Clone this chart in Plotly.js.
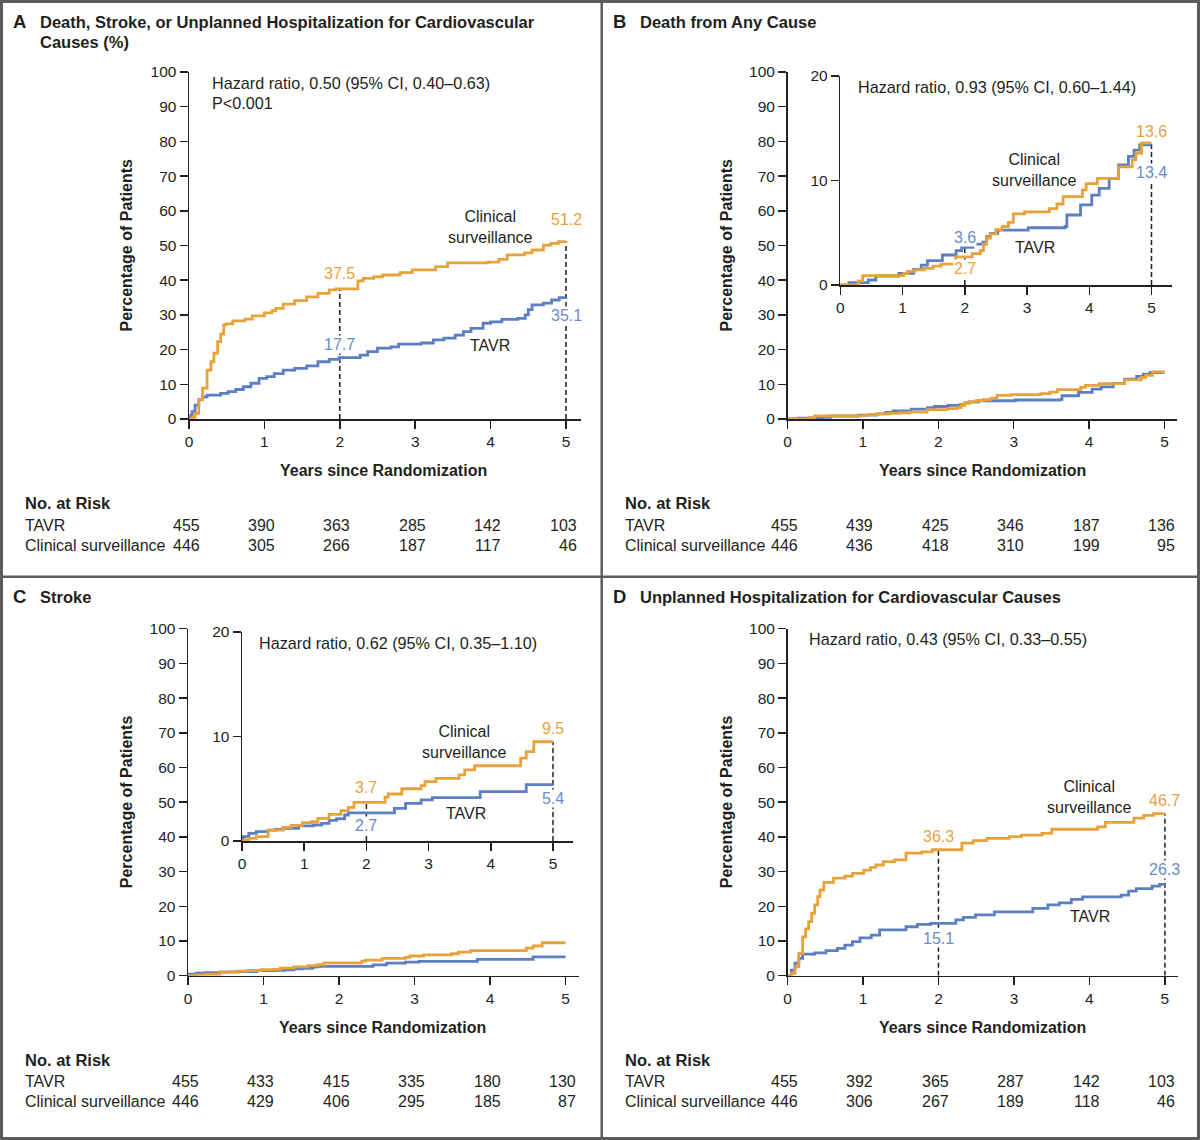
<!DOCTYPE html>
<html>
<head>
<meta charset="utf-8">
<script src="https://cdn.plot.ly/plotly-3.0.1.min.js"></script>
<style>html,body{margin:0;padding:0;background:#fff;}#chart{width:1200px;height:1140px;}</style>
</head>
<body>
<div id="chart"></div>
<script>
// ---------------- DATA ----------------
const years = [0, 1, 2, 3, 4, 5];

// Panel A: Death, stroke, or unplanned CV hospitalization
const A_cs_t   = [0, 0.05, 0.08, 0.13, 0.18, 0.24, 0.29, 0.33, 0.38, 0.42, 0.46, 0.49, 0.58, 0.74, 0.84, 1.0, 1.1, 1.15, 1.25, 1.4, 1.56, 1.71, 1.86, 1.95, 2.24, 2.31, 2.45, 2.57, 2.8, 2.96, 3.27, 3.43, 3.96, 4.11, 4.22, 4.45, 4.55, 4.7, 4.8, 4.9, 5.0];
const A_cs_v   = [0, 0.5, 1.6, 5.5, 8.9, 14.1, 16.5, 19.0, 22.3, 24.5, 27.1, 27.4, 28.3, 28.8, 29.7, 30.6, 31.2, 31.9, 33.1, 34.1, 35.2, 36.2, 37.2, 37.5, 39.8, 40.5, 41.0, 41.5, 42.2, 43.0, 43.9, 45.0, 45.2, 46.0, 47.3, 47.9, 48.7, 50.1, 50.6, 51.1, 51.2];
const A_tavr_t = [0, 0.02, 0.04, 0.08, 0.13, 0.18, 0.24, 0.42, 0.52, 0.62, 0.72, 0.82, 0.93, 1.03, 1.13, 1.25, 1.4, 1.56, 1.71, 1.86, 1.99, 2.27, 2.37, 2.5, 2.68, 2.78, 3.08, 3.24, 3.38, 3.53, 3.64, 3.74, 3.9, 4.0, 4.15, 4.36, 4.46, 4.5, 4.55, 4.7, 4.81, 4.91, 5.0];
const A_tavr_v = [0, 1.0, 2.1, 4.0, 5.6, 6.4, 6.9, 7.4, 7.9, 8.5, 9.3, 10.3, 11.7, 12.2, 13.1, 14.1, 14.6, 15.3, 16.5, 17.2, 17.7, 18.4, 19.4, 20.4, 20.8, 21.6, 21.9, 22.8, 23.3, 24.2, 25.2, 26.1, 27.6, 28.0, 28.7, 29.0, 30.0, 31.5, 32.9, 33.4, 34.3, 35.0, 35.1];

// Panel B: Death from any cause
const B_cs_t   = [0, 0.29, 0.36, 1.02, 1.08, 1.2, 1.35, 1.49, 1.62, 1.85, 2.12, 2.25, 2.3, 2.35, 2.41, 2.5, 2.6, 2.7, 2.78, 2.96, 3.36, 3.48, 3.58, 3.89, 3.95, 4.13, 4.47, 4.69, 4.75, 4.84, 5.0];
const B_cs_v   = [0, 0.4, 0.9, 1.1, 1.3, 1.45, 1.6, 1.8, 2.0, 2.7, 3.0, 3.3, 3.9, 4.5, 4.9, 5.3, 5.6, 6.0, 6.8, 7.0, 7.3, 7.75, 8.45, 9.1, 9.7, 10.2, 11.3, 12.0, 12.6, 13.6, 13.6];
const B_tavr_t = [0, 0.14, 0.45, 0.57, 0.94, 1.18, 1.3, 1.4, 1.64, 1.86, 1.95, 2.13, 2.29, 2.35, 2.41, 2.53, 3.02, 3.61, 3.64, 3.86, 4.04, 4.16, 4.32, 4.47, 4.63, 4.72, 4.81, 5.0];
const B_tavr_v = [0, 0.22, 0.48, 0.86, 1.12, 1.5, 1.91, 2.33, 2.87, 3.28, 3.6, 3.92, 4.1, 4.62, 4.94, 5.26, 5.48, 5.6, 6.7, 7.66, 8.6, 9.25, 10.2, 11.5, 12.3, 12.9, 13.4, 13.4];

// Panel C: Stroke
const C_cs_t   = [0, 0.05, 0.11, 0.23, 0.42, 0.66, 0.79, 0.97, 1.12, 1.22, 1.4, 1.59, 1.71, 1.8, 2.3, 2.35, 2.57, 2.88, 2.94, 3.12, 3.49, 3.58, 3.74, 4.48, 4.57, 4.69, 5.0];
const C_cs_v   = [0, 0.1, 0.26, 0.42, 1.05, 1.31, 1.5, 1.75, 1.85, 2.17, 2.55, 2.9, 3.22, 3.7, 4.19, 4.5, 5.0, 5.3, 5.68, 6.0, 6.33, 6.8, 7.2, 7.93, 8.56, 9.5, 9.5];
const C_tavr_t = [0, 0.02, 0.11, 0.23, 0.42, 0.54, 0.66, 0.91, 1.15, 1.28, 1.4, 1.52, 1.65, 1.71, 2.45, 2.63, 2.88, 3.06, 3.83, 4.57, 5.0];
const C_tavr_v = [0, 0.42, 0.73, 0.9, 1.05, 1.12, 1.2, 1.44, 1.53, 1.69, 1.98, 2.13, 2.49, 2.7, 3.13, 3.61, 3.93, 4.15, 4.73, 5.4, 5.4];

// Panel D: Unplanned hospitalization for CV causes
const D_cs_t   = [0, 0.05, 0.1, 0.15, 0.2, 0.24, 0.28, 0.32, 0.36, 0.4, 0.43, 0.48, 0.61, 0.76, 0.86, 1.01, 1.1, 1.17, 1.27, 1.42, 1.57, 1.78, 1.92, 2.31, 2.46, 2.64, 2.94, 3.1, 3.37, 3.5, 4.11, 4.21, 4.59, 4.72, 4.85, 5.0];
const D_cs_v   = [0, 0.7, 2.6, 6.4, 11.2, 13.5, 15.6, 18.0, 20.4, 22.8, 24.7, 26.9, 28.1, 28.7, 29.5, 30.4, 31.2, 31.9, 32.9, 33.4, 35.3, 35.7, 36.3, 38.2, 38.9, 39.6, 40.1, 40.5, 41.0, 42.2, 42.9, 44.2, 45.4, 46.2, 46.7, 46.7];
const D_tavr_t = [0, 0.05, 0.1, 0.15, 0.2, 0.36, 0.51, 0.66, 0.76, 0.86, 0.96, 1.11, 1.22, 1.57, 1.72, 1.9, 2.23, 2.33, 2.49, 2.74, 3.25, 3.45, 3.6, 3.76, 3.91, 4.42, 4.52, 4.62, 4.83, 4.93, 5.0];
const D_tavr_v = [0, 1.6, 3.6, 5.0, 6.2, 6.6, 7.2, 7.9, 8.8, 9.8, 10.9, 11.7, 13.2, 14.1, 14.8, 15.1, 16.1, 16.8, 17.5, 18.4, 19.4, 20.4, 21.0, 22.0, 22.7, 23.2, 24.4, 25.1, 25.8, 26.3, 26.3];

// Landmark estimates (years 2 and 5)
const landmarkYears = [2, 5];
const A_cs_mark = [37.5, 51.2], A_tavr_mark = [17.7, 35.1];
const B_cs_mark = [2.7, 13.6],  B_tavr_mark = [3.6, 13.4];
const C_cs_mark = [3.7, 9.5],   C_tavr_mark = [2.7, 5.4];
const D_cs_mark = [36.3, 46.7], D_tavr_mark = [15.1, 26.3];

// Numbers at risk
const A_risk_tavr = [455, 390, 363, 285, 142, 103], A_risk_cs = [446, 305, 266, 187, 117, 46];
const B_risk_tavr = [455, 439, 425, 346, 187, 136], B_risk_cs = [446, 436, 418, 310, 199, 95];
const C_risk_tavr = [455, 433, 415, 335, 180, 130], C_risk_cs = [446, 429, 406, 295, 185, 87];
const D_risk_tavr = [455, 392, 365, 287, 142, 103], D_risk_cs = [446, 306, 267, 189, 118, 46];

// Text
const panelLetters = ['A', 'B', 'C', 'D'];
const panelTitles = [['Death, Stroke, or Unplanned Hospitalization for Cardiovascular', 'Causes (%)'], ['Death from Any Cause'], ['Stroke'], ['Unplanned Hospitalization for Cardiovascular Causes']];
const hazardTexts = [['Hazard ratio, 0.50 (95% CI, 0.40\u20130.63)', 'P&lt;0.001'], ['Hazard ratio, 0.93 (95% CI, 0.60\u20131.44)'], ['Hazard ratio, 0.62 (95% CI, 0.35\u20131.10)'], ['Hazard ratio, 0.43 (95% CI, 0.33\u20130.55)']];
const groupNames = ['TAVR', 'Clinical surveillance'];

// ---------------- STYLE / LAYOUT ----------------
const W = 1200, H = 1140;
const PX = x => x / W, PY = y => 1 - y / H;
const FONT = 'Liberation Sans, Arial, Helvetica, sans-serif';
const INK = '#231f20';
const ORANGE = '#E9A23B', BLUE = '#5B7FC2';
const ORANGE_TXT = '#E8A23E', BLUE_TXT = '#6A8BC8';

// geometry in pixels: x0 (year 0), x5 (year 5), xe (axis end), yb (bottom), yt (top), ymax
const geo = {
  A:  {x0: 189,   x5: 566,    xe: 581,  yb: 419,   yt: 72,    ymax: 100},
  B:  {x0: 787.5, x5: 1164.5, xe: 1177, yb: 419,   yt: 72,    ymax: 100},
  Bi: {x0: 840.3, x5: 1151.5, xe: 1172, yb: 285,   yt: 76,    ymax: 20},
  C:  {x0: 188,   x5: 565.6,  xe: 579,  yb: 975.7, yt: 628.7, ymax: 100},
  Ci: {x0: 242,   x5: 553,    xe: 573,  yb: 841,   yt: 632,   ymax: 20},
  D:  {x0: 787.5, x5: 1164.9, xe: 1178, yb: 975.7, yt: 628.7, ymax: 100}
};
const axKeys = {A: ['x', 'y'], B: ['x2', 'y2'], Bi: ['x3', 'y3'], C: ['x4', 'y4'], Ci: ['x5', 'y5'], D: ['x6', 'y6']};

const layout = {
  width: W, height: H,
  margin: {l: 0, r: 0, t: 0, b: 0, pad: 0},
  paper_bgcolor: '#fff', plot_bgcolor: 'rgba(0,0,0,0)',
  showlegend: false,
  font: {family: FONT, color: INK, size: 16},
  annotations: [], shapes: []
};

function axisName(k) { return k === 'x' ? 'xaxis' : k === 'y' ? 'yaxis' : (k[0] + 'axis' + k.slice(1)); }

Object.keys(geo).forEach(p => {
  const g = geo[p];
  const [xk, yk] = axKeys[p];
  const inset = g.ymax === 20;
  const common = {
    showline: true, linecolor: INK, linewidth: 1.5,
    ticks: 'outside', ticklen: 8, tickwidth: 1.5, tickcolor: INK,
    showgrid: false, zeroline: false, fixedrange: true,
    tickfont: {family: FONT, size: 15.5, color: INK}
  };
  layout[axisName(xk)] = Object.assign({}, common, {
    domain: [PX(g.x0), PX(g.xe)],
    range: [0, 5 * (g.xe - g.x0) / (g.x5 - g.x0)],
    tickvals: years, ticktext: years.map(String),
    anchor: yk
  });
  layout[axisName(yk)] = Object.assign({}, common, {
    domain: [PY(g.yb), PY(g.yt)],
    range: [0, g.ymax],
    tickvals: inset ? [0, 10, 20] : [0, 10, 20, 30, 40, 50, 60, 70, 80, 90, 100],
    anchor: xk
  });
});

// ---------------- TRACES ----------------
const traces = [];
function addCurves(p, cs_t, cs_v, tv_t, tv_v) {
  const [xk, yk] = axKeys[p];
  traces.push({x: tv_t, y: tv_v, xaxis: xk, yaxis: yk, mode: 'lines', line: {shape: 'hv', color: BLUE, width: 2.8}, cliponaxis: false, hoverinfo: 'skip', name: groupNames[0]});
  traces.push({x: cs_t, y: cs_v, xaxis: xk, yaxis: yk, mode: 'lines', line: {shape: 'hv', color: ORANGE, width: 2.8}, cliponaxis: false, hoverinfo: 'skip', name: groupNames[1]});
}
addCurves('A', A_cs_t, A_cs_v, A_tavr_t, A_tavr_v);
addCurves('B', B_cs_t, B_cs_v, B_tavr_t, B_tavr_v);
addCurves('Bi', B_cs_t, B_cs_v, B_tavr_t, B_tavr_v);
addCurves('C', C_cs_t, C_cs_v, C_tavr_t, C_tavr_v);
addCurves('Ci', C_cs_t, C_cs_v, C_tavr_t, C_tavr_v);
addCurves('D', D_cs_t, D_cs_v, D_tavr_t, D_tavr_v);

// ---------------- LANDMARKS ----------------
// pixel offsets of value labels: [cs@2, tavr@2, cs@5, tavr@5]
const labelShift = {A: [15, 13, 22, -18], Bi: [-12, 10, 11, -28], Ci: [15, -13, 13, -14], D: [13, -15, 13, 15]};
function addLandmarks(p, csMark, tvMark) {
  const [xk, yk] = axKeys[p];
  const sh = labelShift[p];
  landmarkYears.forEach((t, i) => {
    layout.shapes.push({type: 'line', xref: xk, yref: yk, x0: t, x1: t, y0: 0, y1: Math.max(csMark[i], tvMark[i]),
      line: {color: INK, width: 1.5, dash: '5px,3px'}, layer: 'below'});
    layout.annotations.push({xref: xk, yref: yk, x: t, y: csMark[i], yshift: sh[i * 2], text: csMark[i].toFixed(1),
      showarrow: false, xanchor: 'center', yanchor: 'middle', bgcolor: '#ffffff', borderpad: 0,
      font: {family: FONT, size: 16, color: ORANGE_TXT}});
    layout.annotations.push({xref: xk, yref: yk, x: t, y: tvMark[i], yshift: sh[i * 2 + 1], text: tvMark[i].toFixed(1),
      showarrow: false, xanchor: 'center', yanchor: 'middle', bgcolor: '#ffffff', borderpad: 0,
      font: {family: FONT, size: 16, color: BLUE_TXT}});
  });
}
addLandmarks('A', A_cs_mark, A_tavr_mark);
addLandmarks('Bi', B_cs_mark, B_tavr_mark);
addLandmarks('Ci', C_cs_mark, C_tavr_mark);
addLandmarks('D', D_cs_mark, D_tavr_mark);

// ---------------- TEXT ----------------
function txt(x, y, text, opts) {
  layout.annotations.push(Object.assign({xref: 'paper', yref: 'paper', x: PX(x), y: PY(y), text: text, showarrow: false,
    xanchor: 'left', yanchor: 'middle', font: {family: FONT, size: 16, color: INK}}, opts || {}));
}
const bold = (s, size) => ({family: FONT, size: size, color: INK, weight: 'bold'});

const panels = [
  {key: 'A', lx: 0,   ty: 0,     main: 'A', hz: [210, 83],  cs: [490, 226.5], tv: [490, 345.7], risk: [A_risk_tavr, A_risk_cs]},
  {key: 'B', lx: 600, ty: 0,     main: 'B', hz: [855.6, 87], cs: [1034, 170], tv: [1035, 247], risk: [B_risk_tavr, B_risk_cs]},
  {key: 'C', lx: 0,   ty: 576.5, main: 'C', hz: [257, 642.7], cs: [464, 741.7], tv: [466, 813], risk: [C_risk_tavr, C_risk_cs]},
  {key: 'D', lx: 600, ty: 576.5, main: 'D', hz: [806.7, 639], cs: [1089, 797], tv: [1090, 917], risk: [D_risk_tavr, D_risk_cs]}
];

panels.forEach((P, i) => {
  const g = geo[P.main];
  const titleY = P.ty + 21.5 + (i >= 2 ? -1.5 : 0);
  txt(P.lx + 11, titleY, panelLetters[i], {font: bold(INK, 18.5)});
  panelTitles[i].forEach((line, j) => txt(P.lx + 38, titleY + j * 21, line, {font: bold(INK, 16.5)}));
  hazardTexts[i].forEach((line, j) => txt(P.hz[0], P.hz[1] + j * 20, line, {font: {family: FONT, size: 16.2, color: INK}}));
  txt(P.cs[0], P.cs[1], 'Clinical<br>surveillance', {xanchor: 'center', align: 'center', font: {family: FONT, size: 16, color: INK}});
  txt(P.tv[0], P.tv[1], groupNames[0], {xanchor: 'center', font: {family: FONT, size: 16, color: INK}});
  txt(P.lx + 126, (g.yb + g.yt) / 2, 'Percentage of Patients', {xanchor: 'center', textangle: -90, font: bold(INK, 16)});
  txt((g.x0 + g.x5) / 2 + 6, g.yb + 51.5, 'Years since Randomization', {xanchor: 'center', font: bold(INK, 16)});
  const ry = g.yb + 84;
  txt(P.lx + 23, ry, 'No. at Risk', {font: bold(INK, 16.5)});
  txt(P.lx + 23, ry + 22, groupNames[0]);
  txt(P.lx + 23, ry + 42, groupNames[1]);
  years.forEach((yr, k) => {
    const xpx = g.x0 + k * (g.x5 - g.x0) / 5 + 12.5;
    txt(xpx, ry + 22, String(P.risk[0][k]), {xanchor: 'right'});
    txt(xpx, ry + 42, String(P.risk[1][k]), {xanchor: 'right'});
  });
});

// frame and dividers
const FRAME = '#5c5c5c';
layout.shapes.push({type: 'rect', xref: 'paper', yref: 'paper', x0: PX(1.5), x1: PX(W - 1.5), y0: PY(H - 1.5), y1: PY(1.5), line: {color: FRAME, width: 3}});
layout.shapes.push({type: 'line', xref: 'paper', yref: 'paper', x0: PX(601.7), x1: PX(601.7), y0: 0, y1: 1, line: {color: FRAME, width: 2.5}});
layout.shapes.push({type: 'line', xref: 'paper', yref: 'paper', x0: 0, x1: 1, y0: PY(576.7), y1: PY(576.7), line: {color: FRAME, width: 2.5}});

Plotly.newPlot('chart', traces, layout, {displayModeBar: false, staticPlot: true});
</script>
</body>
</html>
